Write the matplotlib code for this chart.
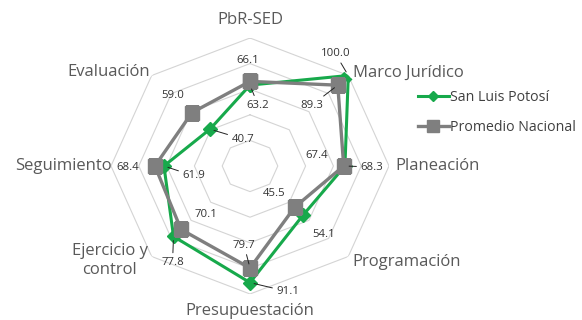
import matplotlib
matplotlib.use('Agg')
import matplotlib.pyplot as plt
import numpy as np

categories = ['PbR-SED', 'Marco Jurídico', 'Planeación', 'Programación',
              'Presupuestación', 'Ejercicio y\ncontrol', 'Seguimiento', 'Evaluación']
slp = [63.2, 100.0, 68.3, 54.1, 91.1, 77.8, 61.9, 40.7]
nacional = [66.1, 89.3, 67.4, 45.5, 79.7, 70.1, 68.4, 59.0]
ring_levels = [20, 40, 60, 80, 100]

green = '#17a94b'
grey = '#7f7f7f'
label_col = '#595959'
value_col = '#333333'

plt.rcParams['font.family'] = ['Open Sans', 'DejaVu Sans']

fig = plt.figure(figsize=(5.82, 3.2), dpi=100)
ax = fig.add_axes([0.1907, 0.08125, 0.4777, 0.8], projection='polar')
ax.set_aspect('auto')
ax.set_theta_zero_location('N')
ax.set_theta_direction(-1)
ax.set_rlim(0, 100)
ax.grid(False)
ax.spines['polar'].set_visible(False)
ax.set_xticks([])
ax.set_yticks([])
ax.patch.set_alpha(0)

n = len(categories)
theta = np.arange(n) * 2 * np.pi / n
closed = np.append(theta, theta[0])

# octagonal grid
for lvl in ring_levels:
    ax.plot(closed, [lvl] * (n + 1), color='#d4d4d4', lw=0.8, zorder=1)

ax.plot(closed, slp + slp[:1], color=green, lw=2.2, marker='D', markersize=7,
        label='San Luis Potosí', zorder=3)
ax.plot(closed, nacional + nacional[:1], color=grey, lw=2.4, marker='s', markersize=10,
        label='Promedio Nacional', zorder=4)

# category labels: (offset px, ha)
cat_pos = [((0, 18), 'center'), ((5, 3), 'left'), ((6, 0), 'left'), ((4, -5), 'left'),
           ((0, -17), 'center'), ((-4, -4), 'right'), ((1, 0), 'right'), ((-2, 3), 'right')]
for t, name, (off, ha) in zip(theta, categories, cat_pos):
    ax.annotate(name, (t, 100), xytext=off, textcoords='offset pixels', ha=ha, va='center',
                multialignment='center', fontsize=12, color=label_col, annotation_clip=False)

# value labels: offset px and whether a leader line is drawn
slp_off = [(8, -20), (-13, 22), (27, -1), (20, -20), (38, -9), (-1, -26), (30, -10), (33, -10)]
slp_lead = [True, True, True, False, True, True, True, True]
nac_off = [(-2, 21), (-26, -20), (-27, 11), (-21, 14), (-6, 23), (25, 15), (-27, -1), (-19, 17)]
nac_lead = [False, True, False, False, True, False, False, False]

for vals, offs, leads in [(slp, slp_off, slp_lead), (nacional, nac_off, nac_lead)]:
    for t, v, off, lead in zip(theta, vals, offs, leads):
        props = dict(arrowstyle='-', color='#222222', lw=0.7, shrinkA=1, shrinkB=3) if lead else None
        ax.annotate(f'{v:.1f}', (t, v), xytext=off, textcoords='offset pixels',
                    ha='center', va='center', fontsize=8.2, color=value_col,
                    arrowprops=props, zorder=6, annotation_clip=False)

fig.legend(loc='upper left', bbox_to_anchor=(0.718, 0.718), frameon=False,
           fontsize=10.2, handlelength=2.2, handletextpad=0.1, labelspacing=1.05,
           borderpad=0, borderaxespad=0, labelcolor='#404040', markerscale=0.8)

fig.savefig('out.png', dpi=100)
